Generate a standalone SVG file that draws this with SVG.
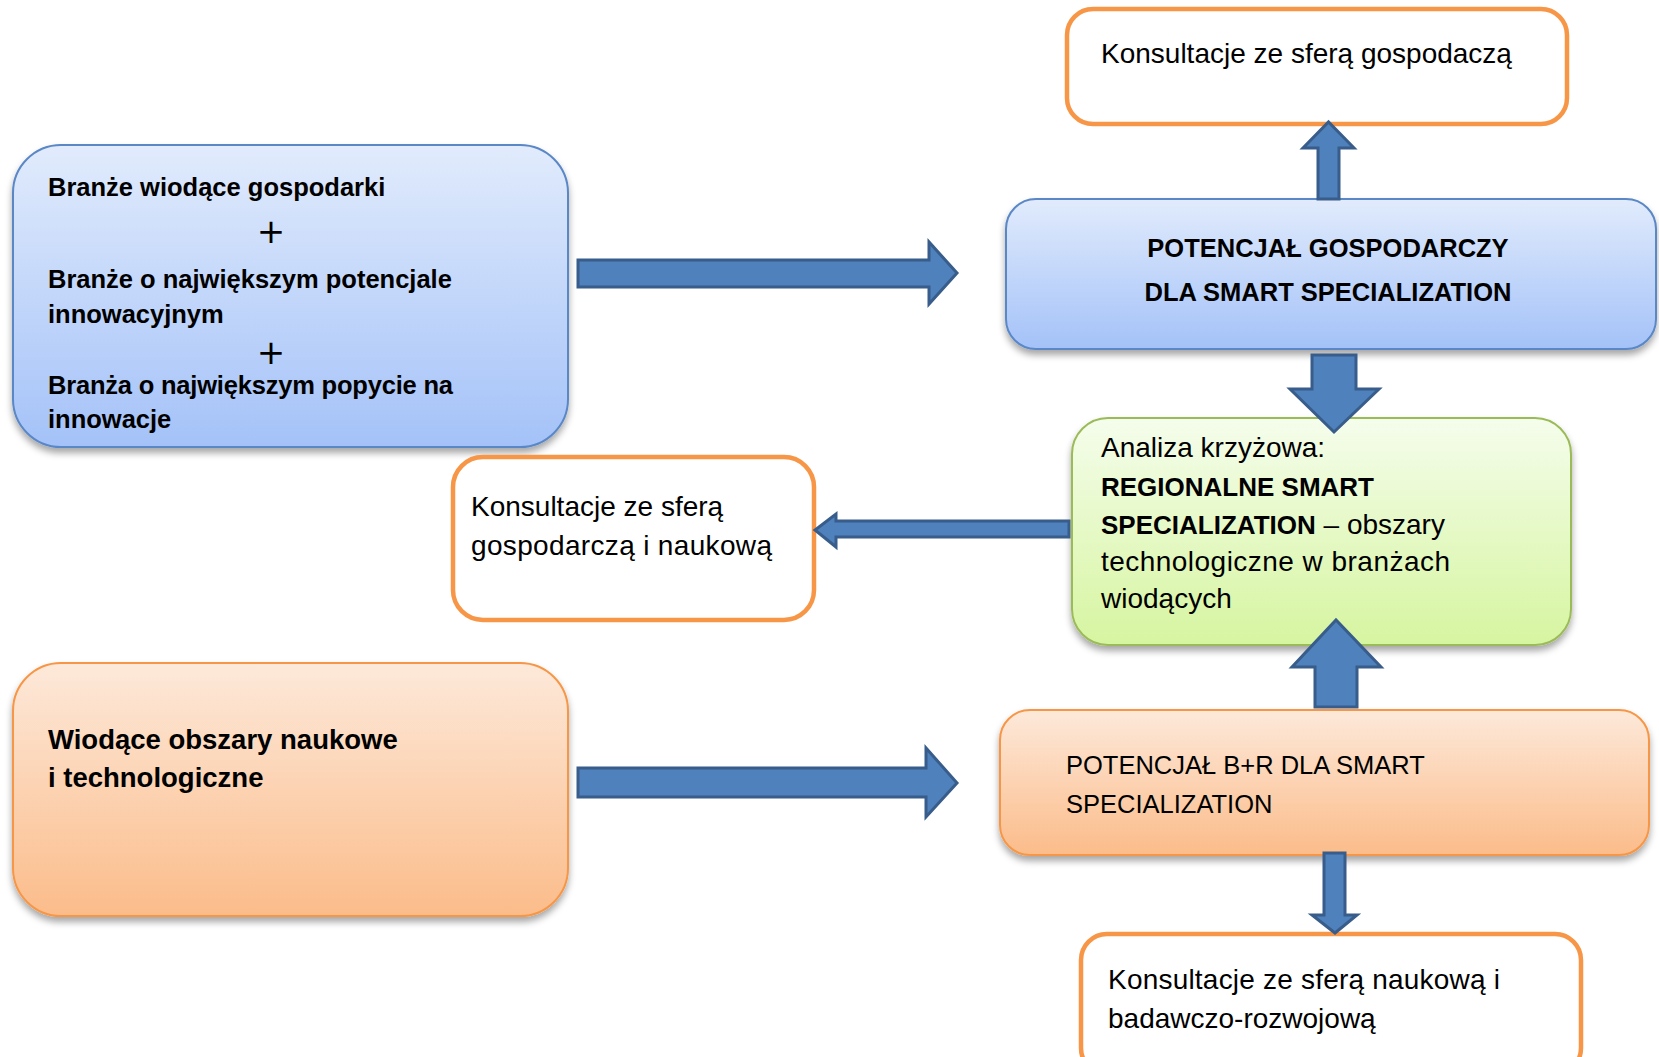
<svg xmlns="http://www.w3.org/2000/svg" width="1659" height="1057" viewBox="0 0 1659 1057">
<defs>
<linearGradient id="gBlue" x1="0" y1="0" x2="0" y2="1"><stop offset="0" stop-color="#E1EBFC"/><stop offset="1" stop-color="#A4C2F8"/></linearGradient>
<linearGradient id="gGreen" x1="0" y1="0" x2="0" y2="1"><stop offset="0" stop-color="#F5FDEC"/><stop offset="1" stop-color="#D6F5A0"/></linearGradient>
<linearGradient id="gOrange" x1="0" y1="0" x2="0" y2="1"><stop offset="0" stop-color="#FDE9DA"/><stop offset="1" stop-color="#FBBC8A"/></linearGradient>
<filter id="sh" x="-10%" y="-10%" width="120%" height="130%"><feDropShadow dx="0" dy="5" stdDeviation="3.5" flood-color="#000" flood-opacity="0.35"/></filter>
<style>
.t{font-family:"Liberation Sans",Arial,sans-serif;font-size:28px;fill:#000}
.b{font-family:"Liberation Sans",Arial,sans-serif;font-size:25.5px;font-weight:bold;fill:#000}
.u{font-family:"Liberation Sans",Arial,sans-serif;font-size:25.5px;fill:#000}
.p{font-family:"DejaVu Sans",sans-serif;font-size:34px;fill:#000}
.blue{fill:url(#gBlue);stroke:#5A87C6;stroke-width:2;filter:url(#sh)}
.green{fill:url(#gGreen);stroke:#9BBB59;stroke-width:2;filter:url(#sh)}
.orange{fill:url(#gOrange);stroke:#F79646;stroke-width:2;filter:url(#sh)}
.out{fill:#fff;stroke:#F79646;stroke-width:4.5}
.arr{fill:#4F81BD;stroke:#385D8A;stroke-width:3;stroke-linejoin:miter}
</style>
</defs>
<rect width="1659" height="1057" fill="#fff"/>

<g id="branze">
<rect class="blue" x="13" y="145" width="555" height="302" rx="48"/>
<text class="b" x="48" y="196">Branże wiodące gospodarki</text>
<text class="p" x="271" y="243" text-anchor="middle">+</text>
<text class="b" x="48" y="288">Branże o największym potencjale</text>
<text class="b" x="48" y="323">innowacyjnym</text>
<text class="p" x="271" y="364" text-anchor="middle">+</text>
<text class="b" x="48" y="394" textLength="405">Branża o największym popycie na</text>
<text class="b" x="48" y="428">innowacje</text>
</g>

<g id="konsultacje-gosp">
<rect class="out" x="1067" y="9" width="500" height="115" rx="26"/>
<text class="t" x="1101" y="63">Konsultacje ze sferą gospodaczą</text>
</g>

<g id="potencjal-gosp">
<rect class="blue" x="1006" y="199" width="650" height="150" rx="30"/>
<text class="b" x="1328" y="257" text-anchor="middle">POTENCJAŁ GOSPODARCZY</text>
<text class="b" x="1328" y="301" text-anchor="middle">DLA SMART SPECIALIZATION</text>
</g>

<g id="analiza">
<rect class="green" x="1072" y="418" width="499" height="227" rx="36"/>
<text class="t" x="1101" y="457">Analiza krzyżowa:</text>
<text class="b" x="1101" y="496" style="font-size:26px">REGIONALNE SMART</text>
<text class="t" x="1101" y="534"><tspan style="font-weight:bold;font-size:26px">SPECIALIZATION</tspan> – obszary</text>
<text class="t" x="1101" y="571" textLength="349">technologiczne w branżach</text>
<text class="t" x="1101" y="608">wiodących</text>
</g>

<g id="konsultacje-gosp-nauk">
<rect class="out" x="453" y="457" width="361" height="163" rx="30"/>
<text class="t" x="471" y="516">Konsultacje ze sferą</text>
<text class="t" x="471" y="555" textLength="301">gospodarczą i naukową</text>
</g>

<g id="wiodace-obszary">
<rect class="orange" x="13" y="663" width="555" height="253" rx="48"/>
<text class="b" x="48" y="749" style="font-size:27.5px">Wiodące obszary naukowe</text>
<text class="b" x="48" y="787" style="font-size:27.5px">i technologiczne</text>
</g>

<g id="potencjal-br">
<rect class="orange" x="1000" y="710" width="649" height="145" rx="30"/>
<text class="u" x="1066" y="774">POTENCJAŁ B+R DLA SMART</text>
<text class="u" x="1066" y="813">SPECIALIZATION</text>
</g>

<g id="konsultacje-nauk">
<rect class="out" x="1081" y="934" width="500" height="140" rx="26"/>
<text class="t" x="1108" y="989" textLength="392">Konsultacje ze sferą naukową i</text>
<text class="t" x="1108" y="1028">badawczo-rozwojową</text>
</g>

<g id="connectors">
<path class="arr" d="M578,260 H929 V242 L957,273 L929,304 V287 H578 Z"/>
<path class="arr" d="M578,768 H926 V748 L957,783 L926,817 V797 H578 Z"/>
<path class="arr" d="M1318,199 V148 H1303 L1328.5,122 L1354,148 H1339 V199 Z"/>
<path class="arr" d="M1312,355 H1356 V389 H1379 L1334,432 L1290,389 H1312 Z"/>
<path class="arr" d="M1069,521 V537 H836 V547 L815,530 L836,514 V521 Z"/>
<path class="arr" d="M1315,707 V667 H1292 L1336,620 L1381,667 H1357 V707 Z"/>
<path class="arr" d="M1324,853 H1345 V915 H1357 L1335,933 L1312,915 H1324 Z"/>
</g>
</svg>
